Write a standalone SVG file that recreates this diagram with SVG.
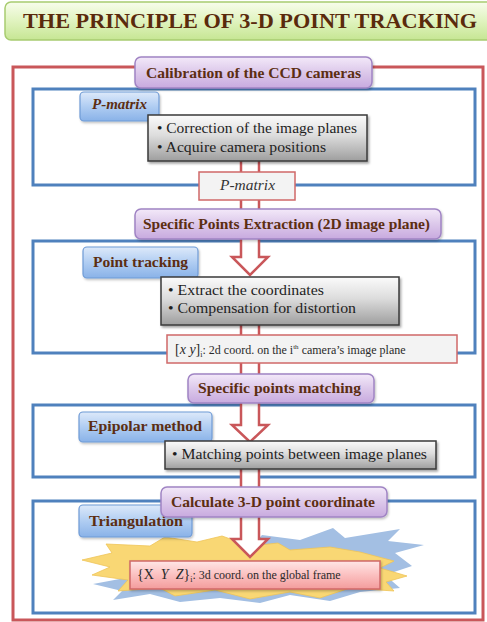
<svg xmlns="http://www.w3.org/2000/svg" width="487" height="622" viewBox="0 0 487 622" font-family="Liberation Serif, serif">
<defs>
<linearGradient id="gTitle" x1="0" y1="0" x2="0" y2="1"><stop offset="0" stop-color="#f8fdec"/><stop offset="0.5" stop-color="#e0f3bf"/><stop offset="1" stop-color="#c6e693"/></linearGradient>
<linearGradient id="gPurple" x1="0" y1="0" x2="0" y2="1"><stop offset="0" stop-color="#f3e9f9"/><stop offset="0.5" stop-color="#dcc8ea"/><stop offset="1" stop-color="#c8aadf"/></linearGradient>
<linearGradient id="gBlue" x1="0" y1="0" x2="0" y2="1"><stop offset="0" stop-color="#dde9fa"/><stop offset="0.5" stop-color="#b0cdf2"/><stop offset="1" stop-color="#89b2e8"/></linearGradient>
<linearGradient id="gGray" x1="0" y1="0" x2="0" y2="1"><stop offset="0" stop-color="#fbfbfb"/><stop offset="0.45" stop-color="#dcdcdc"/><stop offset="1" stop-color="#9e9e9e"/></linearGradient>
<linearGradient id="gPink" x1="0" y1="0" x2="0" y2="1"><stop offset="0" stop-color="#ffe6e6"/><stop offset="0.5" stop-color="#fbc0c0"/><stop offset="1" stop-color="#f39c9c"/></linearGradient>
<filter id="sh" x="-10%" y="-20%" width="130%" height="160%"><feDropShadow dx="1.5" dy="2" stdDeviation="1.2" flood-color="#000" flood-opacity="0.35"/></filter>
<filter id="shs" x="-10%" y="-20%" width="130%" height="160%"><feDropShadow dx="1" dy="1.5" stdDeviation="1" flood-color="#000" flood-opacity="0.25"/></filter>
</defs>
<style>
.red{fill:none;stroke:#c9575a;stroke-width:3}
.blu{fill:none;stroke:#4f81bd;stroke-width:3}
.hdr{fill:url(#gPurple);stroke:#a084c4;stroke-width:1.5}
.lbl{fill:url(#gBlue);stroke:#6f9bd6;stroke-width:1.2}
.gry{fill:url(#gGray);stroke:#3a3a3a;stroke-width:1.5}
.wht{fill:#f3f3f3;stroke:#d06868;stroke-width:1.5}
.arr{fill:#fff;stroke:#c9575a;stroke-width:2.5;stroke-linejoin:miter}
.ht{font-family:Liberation Serif, serif;font-weight:bold;font-size:14px;fill:#5c2e12;text-anchor:middle}
.lt{font-family:Liberation Serif, serif;font-weight:bold;font-size:14px;fill:#5c2e12}
.gt{font-family:Liberation Serif, serif;font-size:14px;fill:#1e1e1e}
.st{font-family:Liberation Serif, serif;font-size:12px;fill:#2a2a2a}
</style>

<g id="title">
<rect x="5" y="2" width="492" height="38" rx="6" fill="url(#gTitle)" stroke="#a8cc70" stroke-width="1.5"/>
<text x="250" y="27.5" font-family="Liberation Serif, serif" font-weight="bold" font-size="21" fill="#5a2a0c" text-anchor="middle" textLength="454" lengthAdjust="spacingAndGlyphs">THE PRINCIPLE OF 3-D POINT TRACKING</text>
</g>

<g id="frames">
<rect id="outer" class="red" x="13" y="67" width="470" height="553"/>
<rect id="stage1" class="blu" x="33" y="89" width="442" height="96"/>
<rect id="stage2" class="blu" x="33" y="241" width="442" height="112"/>
<rect id="stage3" class="blu" x="33" y="405" width="442" height="72"/>
<rect id="stage4" class="blu" x="33" y="501" width="442" height="112"/>
</g>

<g id="burst">
<polygon fill="#a3bfe3" points="93,584 125,578 113,568 160,560 250,548 262,535 300,540 333,528 345,538 400,529 388,541 424,545 395,553 412,566 385,575 400,588 360,592 330,601 290,595 260,603 220,598 180,602 150,594 113,600 122,591"/>
<polygon fill="#f9d774" stroke="#efc458" stroke-width="0.8" points="82,560 112,553 106,544 150,546 165,537 197,542 222,536 250,546 278,543 290,550 330,547 360,552 394,561 380,568 407,576 386,582 394,591 350,588 320,598 290,592 250,599 215,590 175,596 160,588 118,591 128,580 92,575 110,567"/>
</g>

<g id="connectors">
<path class="arr" d="M241,150 L241,257 L232,257 L250,275 L268,257 L259,257 L259,150 Z"/>
<path class="arr" d="M241,320 L241,425 L232,425 L250,442 L268,425 L259,425 L259,320 Z"/>
<path class="arr" d="M241,462 L241,539 L232,539 L250,557 L268,539 L259,539 L259,462 Z"/>
</g>

<g id="h1">
<rect class="hdr" x="135" y="57" width="237" height="31" rx="6" filter="url(#shs)"/>
<text class="ht" x="253.5" y="77.5" textLength="215" lengthAdjust="spacingAndGlyphs">Calibration of the CCD cameras</text>
</g>
<g id="lbl1">
<rect class="lbl" x="80" y="92" width="79" height="29" rx="4" filter="url(#shs)"/>
<text class="lt" x="92" y="109" font-style="italic" textLength="55" lengthAdjust="spacingAndGlyphs">P-matrix</text>
</g>
<g id="box1">
<rect class="gry" x="148" y="115" width="219" height="46" filter="url(#sh)"/>
<text class="gt" x="157" y="133" textLength="200" lengthAdjust="spacingAndGlyphs">• Correction of the image planes</text>
<text class="gt" x="157" y="151.5" textLength="169" lengthAdjust="spacingAndGlyphs">• Acquire camera positions</text>
</g>
<g id="out1">
<rect class="wht" x="199" y="172" width="96" height="28"/>
<text x="247.5" y="190" font-family="Liberation Serif, serif" font-style="italic" font-size="14" fill="#333" text-anchor="middle" textLength="55" lengthAdjust="spacingAndGlyphs">P-matrix</text>
</g>

<g id="h2">
<rect class="hdr" x="135" y="209" width="306" height="30" rx="6" filter="url(#shs)"/>
<text class="ht" x="286.5" y="228.5" textLength="287" lengthAdjust="spacingAndGlyphs">Specific Points Extraction (2D image plane)</text>
</g>
<g id="lbl2">
<rect class="lbl" x="83" y="247" width="115" height="31" rx="4" filter="url(#shs)"/>
<text class="lt" x="93" y="266.5" textLength="95" lengthAdjust="spacingAndGlyphs">Point tracking</text>
</g>
<g id="box2">
<rect class="gry" x="161" y="277" width="238" height="48" filter="url(#sh)"/>
<text class="gt" x="168" y="295" textLength="156" lengthAdjust="spacingAndGlyphs">• Extract the coordinates</text>
<text class="gt" x="168" y="313" textLength="188" lengthAdjust="spacingAndGlyphs">• Compensation for distortion</text>
</g>
<g id="out2">
<rect class="wht" x="167" y="335" width="290" height="28"/>
<text class="st" x="175" y="354"><tspan font-size="14">[</tspan><tspan font-size="14" font-style="italic">x y</tspan><tspan font-size="14">]</tspan><tspan font-size="8" dy="3">i</tspan><tspan dy="-3">: 2d coord. on the i</tspan><tspan font-size="7" dy="-5">th</tspan><tspan dy="5"> camera’s image plane</tspan></text>
</g>

<g id="h3">
<rect class="hdr" x="188" y="374" width="186" height="29" rx="6" filter="url(#shs)"/>
<text class="ht" x="279.5" y="393" textLength="163" lengthAdjust="spacingAndGlyphs">Specific points matching</text>
</g>
<g id="lbl3">
<rect class="lbl" x="79" y="412" width="133" height="30" rx="4" filter="url(#shs)"/>
<text class="lt" x="88" y="431" textLength="114" lengthAdjust="spacingAndGlyphs">Epipolar method</text>
</g>
<g id="box3">
<rect class="gry" x="165" y="441" width="271" height="28" filter="url(#sh)"/>
<text class="gt" x="172" y="459" textLength="255" lengthAdjust="spacingAndGlyphs">• Matching points between image planes</text>
</g>

<g id="lbl4">
<rect class="lbl" x="79" y="505" width="113" height="32" rx="4" filter="url(#shs)"/>
<text class="lt" x="89" y="526" textLength="94" lengthAdjust="spacingAndGlyphs">Triangulation</text>
</g>
<g id="h4">
<rect class="hdr" x="161" y="487" width="226" height="30" rx="6" filter="url(#shs)"/>
<text class="ht" x="273" y="506.5" textLength="204" lengthAdjust="spacingAndGlyphs">Calculate 3-D point coordinate</text>
</g>
<g id="out4">
<rect x="130" y="561" width="250" height="28" fill="url(#gPink)" stroke="#d06868" stroke-width="1.5" filter="url(#shs)"/>
<text class="st" x="137" y="579" xml:space="preserve"><tspan font-size="14">{X  </tspan><tspan font-size="14" font-style="italic">Y  Z</tspan><tspan font-size="14">}</tspan><tspan font-size="8" dy="3">i</tspan><tspan dy="-3">: 3d coord. on the global frame</tspan></text>
</g>
</svg>
